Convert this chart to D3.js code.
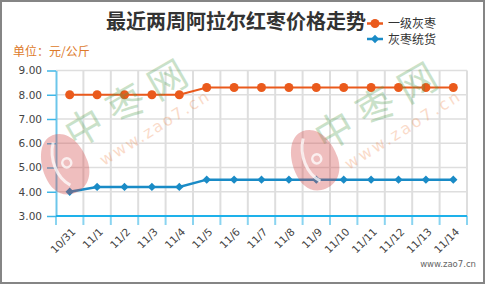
<!DOCTYPE html>
<html><head><meta charset="utf-8">
<script src="https://cdn.jsdelivr.net/npm/d3@7"></script>
<style>html,body{margin:0;padding:0;background:#fff;}svg{display:block;}</style>
</head><body>
<script>
const categories = ["10/31","11/1","11/2","11/3","11/4","11/5","11/6","11/7","11/8","11/9","11/10","11/11","11/12","11/13","11/14"];
const gradeOne = [8.0,8.0,8.0,8.0,8.0,8.3,8.3,8.3,8.3,8.3,8.3,8.3,8.3,8.3,8.3];
const bulk = [4.0,4.2,4.2,4.2,4.2,4.5,4.5,4.5,4.5,4.5,4.5,4.5,4.5,4.5,4.5];
const seriesNames = ["一级灰枣","灰枣统货"];
const yTicks = [3,4,5,6,7,8,9];
const titleText = "最近两周阿拉尔红枣价格走势";
const unitText = "单位：元/公斤";
const siteText = "www.zao7.cn";

const W = 485, H = 284;
const svg = d3.select("body").append("svg").attr("width", W).attr("height", H);
svg.append("rect").attr("x",1).attr("y",1).attr("width",W-2).attr("height",H-2)
  .attr("fill","#fff").attr("stroke","#858585").attr("stroke-width",2);

const x = d3.scaleBand().domain(categories).range([56, 467]);
const y = d3.scaleLinear().domain([3, 9]).range([216, 70.5]);
const cx = d => x(d) + x.bandwidth()/2;

// grid
const edges = categories.map(c => x(c)).concat([x.range()[1]]);
svg.append("g").selectAll("line").data(edges.slice(1)).join("line")
  .attr("x1", d=>d).attr("x2", d=>d).attr("y1", y(9)).attr("y2", y(3))
  .attr("stroke","#dedede").attr("stroke-width",2);
svg.append("g").selectAll("line").data(yTicks.slice(1)).join("line")
  .attr("x1", 56).attr("x2", 467).attr("y1", d=>y(d)).attr("y2", d=>y(d))
  .attr("stroke","#dedede").attr("stroke-width",1.5);

// x tick marks
svg.append("g").selectAll("line").data(edges).join("line")
  .attr("x1", d=>d).attr("x2", d=>d).attr("y1", y(3)).attr("y2", y(3)+9)
  .attr("stroke","#8ad4f0").attr("stroke-width",2);

// y axis
const yAxis = svg.append("g").attr("transform","translate(56,0)")
  .call(d3.axisLeft(y).tickValues(yTicks).tickFormat(d3.format(".2f")).tickSize(9).tickSizeOuter(0).tickPadding(5));
yAxis.select(".domain").attr("stroke","#6cc6ea").attr("stroke-width",2);
yAxis.selectAll(".tick line").attr("stroke","#3fb6e6").attr("stroke-width",1.5);
yAxis.selectAll(".tick text").attr("fill","#444").style("font-family","DejaVu Sans").style("font-size","10.5px");

// x axis baseline
svg.append("line").attr("x1",56).attr("x2",467).attr("y1",y(3)).attr("y2",y(3))
  .attr("stroke","#1eb1ea").attr("stroke-width",2);

// x labels
svg.append("g").selectAll("text").data(categories).join("text")
  .attr("transform", d => `translate(${cx(d)+4},${y(3)+14}) rotate(-45)`)
  .attr("text-anchor","end").attr("dy","0.35em")
  .attr("fill","#444").style("font-family","DejaVu Sans").style("font-size","10.5px")
  .text(d=>d);

// lines
const colors = ["#ea5a1c","#1a8bc6"];
const line = d3.line().x((d,i)=>cx(categories[i])).y(d=>y(d));
svg.append("path").datum(gradeOne).attr("d",line).attr("fill","none").attr("stroke",colors[0]).attr("stroke-width",2);
svg.append("path").datum(bulk).attr("d",line).attr("fill","none").attr("stroke",colors[1]).attr("stroke-width",2.5);
svg.append("g").selectAll("circle").data(gradeOne).join("circle")
  .attr("cx",(d,i)=>cx(categories[i])).attr("cy",d=>y(d)).attr("r",4.5).attr("fill",colors[0]);
const diamond = d3.symbol().type(d3.symbolDiamond2).size(44);
svg.append("g").selectAll("path").data(bulk).join("path")
  .attr("d", diamond)
  .attr("transform",(d,i)=>`translate(${cx(categories[i])},${y(d)})`).attr("fill",colors[1]);

// title
svg.append("text").attr("x",236).attr("y",29).attr("text-anchor","middle")
  .attr("fill","#333").style("font-family","Noto Sans CJK SC").style("font-weight","bold").style("font-size","20px")
  .text(titleText);
svg.append("text").attr("x",13).attr("y",56).attr("fill","#dd7a2a")
  .style("font-family","Noto Sans CJK SC").style("font-size","12px").text(unitText);

// legend
const legY = [23.5, 39];
seriesNames.forEach((n,i)=>{
  const g = svg.append("g");
  g.append("line").attr("x1",367).attr("x2",383).attr("y1",legY[i]).attr("y2",legY[i]).attr("stroke",colors[i]).attr("stroke-width",2.5);
  if(i===0) g.append("circle").attr("cx",375).attr("cy",legY[i]).attr("r",4.5).attr("fill",colors[i]);
  else g.append("path").attr("d",diamond).attr("transform",`translate(375,${legY[i]})`).attr("fill",colors[i]);
  g.append("text").attr("x",388).attr("y",legY[i]+4.5).attr("fill","#333")
    .style("font-family","Noto Sans CJK SC").style("font-size","12px").text(n);
});

// site text
svg.append("text").attr("x",476).attr("y",267).attr("text-anchor","end").attr("fill","#666")
  .style("font-family","DejaVu Sans").style("font-size","8.5px").text(siteText);

// watermarks
const wm = svg.append("g").attr("pointer-events","none");
[[137,100],[387,103]].forEach(p=>{
  wm.append("text").attr("transform",`translate(${p[0]},${p[1]+13}) rotate(-30)`).attr("text-anchor","middle")
    .attr("fill","#4f9e4f").attr("opacity",0.3).style("font-family","Noto Sans CJK SC").style("font-size","38px")
    .style("letter-spacing","10px").text("中枣网");
});
[[157,128,125],[405,130,132]].forEach(p=>{
  wm.append("text").attr("transform",`translate(${p[0]},${p[1]+5}) rotate(-32)`).attr("text-anchor","middle")
    .attr("fill","#f08a50").attr("opacity",0.3).style("font-family","DejaVu Sans").style("font-size","16px")
    .attr("textLength",p[2]).text(siteText);
});
[[64,164],[314,160]].forEach(p=>{
  const g = wm.append("g").attr("transform",`translate(${p[0]},${p[1]}) rotate(-22)`);
  g.append("path").attr("d","M0,-31 C16,-31 24,-12 23,6 C22,22 12,31 0,31 C-14,31 -22,20 -22,4 C-22,-14 -14,-31 0,-31 Z")
    .attr("fill","#d24a4a").attr("opacity",0.36);
  g.append("path").attr("d","M-2,-24 C-12,-10 -12,10 -2,22").attr("fill","none").attr("stroke","#fff").attr("stroke-width",3).attr("opacity",0.75);
  g.append("circle").attr("cx",3).attr("cy",0).attr("r",4.5).attr("fill","none").attr("stroke","#fff").attr("stroke-width",2.5).attr("opacity",0.75);
});
</script>
</body></html>
